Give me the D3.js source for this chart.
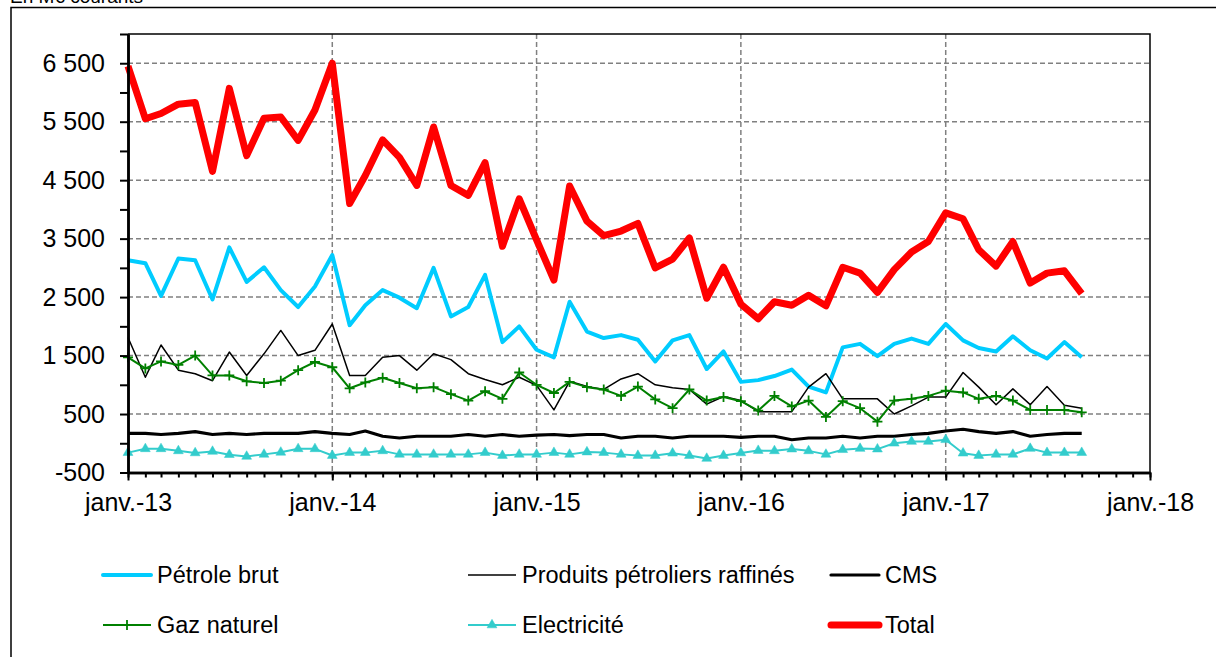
<!DOCTYPE html>
<html>
<head>
<meta charset="utf-8">
<script src="https://cdn.jsdelivr.net/npm/d3@7"></script>
<style>
  body { margin: 0; background: #fff; }
  svg text { font-family: Arial, "Liberation Sans", sans-serif; fill: #000; }
</style>
</head>
<body>
<svg id="chart" width="1216" height="657"></svg>
<script>
// Monthly values, janv.-13 to sept.-17, in M€ courants
var firstMonth = new Date(2013, 0, 1);

var petroleBrut = [3130, 3080, 2520, 3160, 3130, 2460, 3350, 2760, 3010, 2620, 2330, 2680, 3220,
    2020, 2360, 2620, 2490, 2310, 3000, 2170, 2330, 2880, 1730, 2000, 1600, 1470, 2420,
    1910, 1800, 1850, 1770, 1400, 1760, 1850, 1270, 1570, 1050, 1080,
    1150, 1260, 970, 870, 1640, 1700, 1490, 1700, 1790, 1700, 2040, 1760, 1630, 1570, 1830, 1590, 1450, 1730, 1470];

var produitsRaffines = [1810, 1130, 1680, 1250, 1190, 1070, 1560, 1160, 1530, 1930, 1500, 1590, 2040,
    1160, 1160, 1470, 1500, 1250, 1530, 1430, 1190, 1090, 1000, 1130, 990, 570, 1060,
    970, 920, 1100, 1190, 1000, 950, 920, 670, 800, 730, 540,
    540, 540, 960, 1190, 760, 760, 760, 500, 640, 790, 790, 1210, 960, 660, 930, 660, 970, 650, 600];

var cms = [170, 170, 150, 170, 200, 150, 170, 150, 170, 170, 170, 200, 170,
    150, 210, 120, 90, 120, 120, 120, 150, 120, 150, 120, 140, 150, 130,
    150, 150, 90, 120, 120, 90, 120, 120, 120, 100, 120,
    120, 60, 90, 90, 120, 90, 120, 120, 150, 170, 210, 240, 200, 170, 200, 120, 150, 170, 170];

var gazNaturel = [1470, 1280, 1400, 1340, 1500, 1160, 1160, 1060, 1030, 1070, 1250, 1390, 1300,
    940, 1040, 1120, 1030, 940, 960, 840, 730, 890, 760, 1210, 1000, 860, 1050,
    960, 920, 810, 970, 750, 600, 920, 730, 790, 720, 560,
    810, 630, 730, 450, 720, 600, 370, 730, 760, 810, 900, 870, 760, 810, 730, 570, 570, 570, 530];

var electricite = [-160, -95, -95, -130, -165, -140, -195, -225, -190, -155, -95, -95, -210,
    -160, -160, -130, -190, -190, -190, -190, -190, -160, -210, -190, -190, -160, -190,
    -150, -160, -190, -210, -210, -170, -210, -260, -210, -165, -125,
    -130, -100, -130, -190, -110, -90, -100, 0, 30, 30, 60, -170, -210, -190, -190, -90, -160, -160, -160];

var total = [6450, 5550, 5640, 5800, 5830, 4650, 6070, 4920, 5560, 5580, 5180, 5700, 6500,
    4100, 4580, 5190, 4890, 4410, 5410, 4410, 4240, 4800, 3370, 4180, 3480, 2790, 4400,
    3800, 3550, 3630, 3760, 3000, 3150, 3510, 2480, 3010, 2380, 2130,
    2420, 2360, 2530, 2350, 3010, 2910, 2580, 2970, 3270, 3450, 3940, 3840, 3310, 3030, 3450, 2740, 2910, 2950, 2560];

var yLabels = [-500, 500, 1500, 2500, 3500, 4500, 5500, 6500];
var yMinor = [0, 1000, 2000, 3000, 4000, 5000, 6000, 7000];
var unitLabel = "En M€ courants";

var series = [
    {name: "Pétrole brut", values: petroleBrut, color: "#00CCFF", width: 4, marker: null},
    {name: "Produits pétroliers raffinés", values: produitsRaffines, color: "#000000", width: 1.5, marker: null},
    {name: "CMS", values: cms, color: "#000000", width: 3.2, marker: null},
    {name: "Gaz naturel", values: gazNaturel, color: "#008000", width: 2, marker: "plus"},
    {name: "Electricité", values: electricite, color: "#33CCCC", width: 2, marker: "triangle"},
    {name: "Total", values: total, color: "#FF0000", width: 7, marker: null}
];

var svg = d3.select("#chart");
var plotLeft = 128, plotRight = 1150, plotTop = 34, plotBottom = 472.5;

var x = d3.scaleTime()
    .domain([new Date(2013, 0, 1), new Date(2018, 0, 1)])
    .range([plotLeft, plotRight]);
var y = d3.scaleLinear()
    .domain([-500, 7000])
    .range([plotBottom, plotTop]);

var locale = d3.formatLocale({decimal: ",", thousands: "\u00a0", grouping: [3], currency: ["", " €"], minus: "-"});
var fmt = locale.format(",.0f");

var years = d3.timeYear.range(new Date(2013, 0, 1), new Date(2018, 0, 2));
var months = d3.timeMonth.range(new Date(2013, 0, 1), new Date(2018, 0, 2));

// outer chart frame (cut on the right and bottom)
svg.append("path")
    .attr("d", "M11,657V7.5H1216")
    .attr("fill", "none").attr("stroke", "#000").attr("stroke-width", 1.5);

// unit label, cut by the top edge as in the source
svg.append("text")
    .attr("x", 10).attr("y", 3)
    .style("font-size", "19px")
    .text(unitLabel);

// grid lines
svg.append("g").selectAll("line")
    .data(yLabels.filter(function(d) { return d > -500; }))
    .enter().append("line")
    .attr("x1", plotLeft).attr("x2", plotRight)
    .attr("y1", function(d) { return y(d); }).attr("y2", function(d) { return y(d); })
    .attr("stroke", "#808080").attr("stroke-width", 1.5).attr("stroke-dasharray", "5,3");

svg.append("g").selectAll("line")
    .data(years.slice(1, -1))
    .enter().append("line")
    .attr("x1", function(d) { return x(d); }).attr("x2", function(d) { return x(d); })
    .attr("y1", plotTop).attr("y2", plotBottom)
    .attr("stroke", "#808080").attr("stroke-width", 1.5).attr("stroke-dasharray", "5,3");

// plot frame top and right
svg.append("path")
    .attr("d", "M" + plotLeft + "," + plotTop + "H" + plotRight + "V" + plotBottom)
    .attr("fill", "none").attr("stroke", "#000").attr("stroke-width", 1.5);

function markerPath(type) {
    if (type == "plus") return "M-5,0H5M0,-5V5";
    return d3.symbol(d3.symbolTriangle, 42)();
}

// series lines
series.forEach(function(s) {
    var pts = s.values.map(function(v, i) { return [d3.timeMonth.offset(firstMonth, i), v]; });
    var line = d3.line()
        .x(function(d) { return x(d[0]); })
        .y(function(d) { return y(d[1]); });
    svg.append("path")
        .datum(pts)
        .attr("d", line)
        .attr("fill", "none")
        .attr("stroke", s.color)
        .attr("stroke-width", s.width)
        .attr("stroke-linejoin", "round");
    if (s.marker) {
        svg.append("g").selectAll("path")
            .data(pts)
            .enter().append("path")
            .attr("transform", function(d) { return "translate(" + x(d[0]) + "," + y(d[1]) + ")"; })
            .attr("d", markerPath(s.marker))
            .attr("fill", s.marker == "triangle" ? s.color : "none")
            .attr("stroke", s.color)
            .attr("stroke-width", s.marker == "triangle" ? 0.5 : 1.8);
    }
});

// y axis
var yAxis = svg.append("g")
    .attr("transform", "translate(" + plotLeft + ",0)")
    .call(d3.axisLeft(y).tickValues(yLabels).tickSize(8).tickSizeOuter(0).tickPadding(15).tickFormat(fmt));
svg.append("g")
    .attr("transform", "translate(" + plotLeft + ",0)")
    .call(d3.axisLeft(y).tickValues(yMinor).tickSize(8).tickSizeOuter(0).tickFormat(""));

// x axis
var xAxis = svg.append("g")
    .attr("transform", "translate(0," + plotBottom + ")")
    .call(d3.axisBottom(x).tickValues(years).tickSize(8).tickSizeOuter(0).tickPadding(13)
        .tickFormat(function(d) { return "janv.-" + d3.timeFormat("%y")(d); }));
svg.append("g")
    .attr("transform", "translate(0," + plotBottom + ")")
    .call(d3.axisBottom(x).tickValues(months).tickSize(5).tickSizeOuter(0).tickFormat(""));

svg.selectAll(".domain").attr("stroke-width", 2.5);
svg.selectAll(".tick line").attr("stroke-width", 2);
yAxis.selectAll("text").style("font-size", "25px").attr("font-family", null);
xAxis.selectAll("text").style("font-size", "25px").attr("font-family", null);

// legend
var legendPos = [[103, 575], [468, 575], [831, 575], [103, 625], [468, 625], [831, 625]];
var legend = svg.append("g").selectAll("g")
    .data(series)
    .enter().append("g")
    .attr("transform", function(d, i) { return "translate(" + legendPos[i][0] + "," + legendPos[i][1] + ")"; });

legend.append("line")
    .attr("x1", 0).attr("x2", 48)
    .attr("stroke", function(d) { return d.color; })
    .attr("stroke-width", function(d) { return d.width; })
    .attr("stroke-linecap", function(d) { return d.width > 3 ? "round" : "butt"; });

legend.filter(function(d) { return d.marker; }).append("path")
    .attr("transform", "translate(24,0)")
    .attr("d", function(d) { return markerPath(d.marker); })
    .attr("fill", function(d) { return d.marker == "triangle" ? d.color : "none"; })
    .attr("stroke", function(d) { return d.color; })
    .attr("stroke-width", function(d) { return d.marker == "triangle" ? 0.5 : 1.8; });

legend.append("text")
    .attr("x", 54).attr("dy", "0.35em")
    .style("font-size", "23.5px")
    .text(function(d) { return d.name; });
</script>
</body>
</html>
